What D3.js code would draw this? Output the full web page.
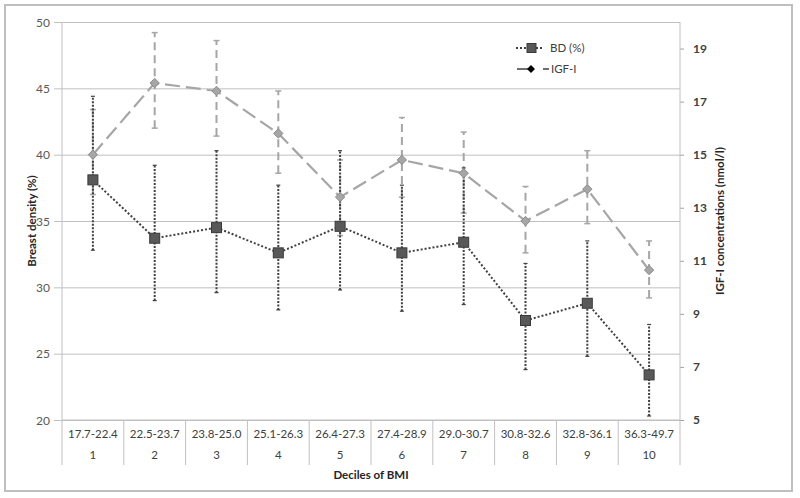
<!DOCTYPE html>
<html><head><meta charset="utf-8">
<script src="https://cdn.jsdelivr.net/npm/d3@7"></script>
<style>body{margin:0;background:#fff}svg{display:block}text{font-family:Lato,"Open Sans",sans-serif}</style>
</head><body><svg id="c" width="800" height="498"></svg>
<script>
const bmiRanges = ["17.7-22.4","22.5-23.7","23.8-25.0","25.1-26.3","26.4-27.3","27.4-28.9","29.0-30.7","30.8-32.6","32.8-36.1","36.3-49.7"];
const deciles = ["1","2","3","4","5","6","7","8","9","10"];
const bd = [38.1, 33.7, 34.5, 32.6, 34.6, 32.6, 33.4, 27.5, 28.8, 23.4];
const bdLow = [32.8, 29.0, 29.6, 28.3, 29.8, 28.2, 28.7, 23.8, 24.8, 20.3];
const bdHigh = [44.4, 39.2, 40.3, 37.7, 40.3, 37.7, 39.0, 31.8, 33.5, 27.2];
const igf = [15.0, 17.7, 17.4, 15.8, 13.4, 14.8, 14.3, 12.5, 13.7, 10.65];
const igfLow = [13.5, 16.0, 15.7, 14.3, 11.95, 13.4, 12.8, 11.3, 12.4, 9.6];
const igfHigh = [16.7, 19.6, 19.3, 17.4, 14.8, 16.4, 15.85, 13.8, 15.15, 11.75];
const leftTicks = [20,25,30,35,40,45,50];
const rightTicks = [5,7,9,11,13,15,17,19];

const svg = d3.select("#c");
const L=62,R=680,T=22,B=420,TB=465;
svg.append("rect").attr("x",5).attr("y",5).attr("width",787).attr("height",486)
  .attr("fill","#fff").attr("stroke","#bfbfbf").attr("stroke-width",2);

const x = d3.scaleBand().domain(deciles).range([L,R]);
const yL = d3.scaleLinear().domain([20,50]).range([B,T]);
const yR = d3.scaleLinear().domain([5,20]).range([B,T]);
const cx = i => x(deciles[i]) + x.bandwidth()/2;

const gl = svg.append("g").attr("transform",`translate(${L},0)`)
  .call(d3.axisLeft(yL).tickValues(leftTicks).tickSizeInner(-(R-L)).tickSizeOuter(0).tickPadding(0));
gl.select(".domain").remove();
gl.selectAll(".tick line").attr("stroke","#c0c0c0").attr("x1",-8);
gl.selectAll(".tick text").attr("x",-12).attr("fill","#595959").style("font-size","12px").attr("dy","0.35em");

const gr = svg.append("g").attr("transform",`translate(${R},0)`)
  .call(d3.axisRight(yR).tickValues(rightTicks).tickSize(4).tickPadding(9));
gr.select(".domain").remove();
gr.selectAll(".tick line").attr("stroke","#a0a0a0");
gr.selectAll(".tick text").attr("fill","#404040").style("font-size","12px").style("font-weight","bold");

svg.append("line").attr("x1",L).attr("x2",L).attr("y1",T).attr("y2",TB).attr("stroke","#c0c0c0");
svg.append("line").attr("x1",R).attr("x2",R).attr("y1",T).attr("y2",TB).attr("stroke","#c0c0c0");
svg.append("line").attr("x1",L).attr("x2",R).attr("y1",B).attr("y2",B).attr("stroke","#c0c0c0");

svg.append("g").selectAll("line").data(deciles.slice(1)).join("line")
  .attr("x1",d=>x(d)).attr("x2",d=>x(d)).attr("y1",B).attr("y2",TB).attr("stroke","#c0c0c0");

const xa1 = svg.append("g").attr("transform",`translate(0,${B})`)
  .call(d3.axisBottom(x).tickFormat((d,i)=>bmiRanges[i]).tickSize(0).tickPadding(10));
xa1.select(".domain").remove();
xa1.selectAll("text").attr("fill","#404040").style("font-size","11.5px");
const xa2 = svg.append("g").attr("transform",`translate(0,${B+21})`)
  .call(d3.axisBottom(x).tickSize(0).tickPadding(10));
xa2.select(".domain").remove();
xa2.selectAll("text").attr("fill","#404040").style("font-size","11.5px");

svg.append("text").attr("x",(L+R)/2).attr("y",479).attr("text-anchor","middle")
  .style("font-size","11.5px").style("font-weight","bold").attr("fill","#262626").text("Deciles of BMI");
svg.append("text").attr("transform",`translate(36,${(T+B)/2}) rotate(-90)`).attr("text-anchor","middle")
  .style("font-size","11.5px").style("font-weight","bold").attr("fill","#262626").text("Breast density  (%)");
svg.append("text").attr("transform",`translate(724,${(T+B)/2}) rotate(-90)`).attr("text-anchor","middle")
  .style("font-size","11.5px").style("font-weight","bold").attr("fill","#262626").text("IGF-I concentrations (nmol/l)");

const idx = d3.range(deciles.length);

const ge = svg.append("g");
ge.selectAll("line.v").data(idx).join("line").attr("class","v")
  .attr("x1",cx).attr("x2",cx).attr("y1",i=>yR(igfLow[i])).attr("y2",i=>yR(igfHigh[i]))
  .attr("stroke","#a6a6a6").attr("stroke-width",2).attr("stroke-dasharray","8,5");
["lo","hi"].forEach(k=>{
  ge.selectAll("line."+k).data(idx).join("line").attr("class",k)
    .attr("x1",i=>cx(i)-3).attr("x2",i=>cx(i)+3)
    .attr("y1",i=>yR(k==="lo"?igfLow[i]:igfHigh[i])).attr("y2",i=>yR(k==="lo"?igfLow[i]:igfHigh[i]))
    .attr("stroke","#a6a6a6").attr("stroke-width",1.5);
});

const gb = svg.append("g");
gb.selectAll("line.v").data(idx).join("line").attr("class","v")
  .attr("x1",cx).attr("x2",cx).attr("y1",i=>yL(bdLow[i])).attr("y2",i=>yL(bdHigh[i]))
  .attr("stroke","#404040").attr("stroke-width",2).attr("stroke-dasharray","2,1.5");
["lo","hi"].forEach(k=>{
  gb.selectAll("line."+k).data(idx).join("line").attr("class",k)
    .attr("x1",i=>cx(i)-2).attr("x2",i=>cx(i)+2)
    .attr("y1",i=>yL(k==="lo"?bdLow[i]:bdHigh[i])).attr("y2",i=>yL(k==="lo"?bdLow[i]:bdHigh[i]))
    .attr("stroke","#404040").attr("stroke-width",1.2);
});

svg.append("path").datum(idx)
  .attr("d",d3.line().x(cx).y(i=>yR(igf[i])))
  .attr("fill","none").attr("stroke","#a6a6a6").attr("stroke-width",2.2).attr("stroke-dasharray","15,6");
svg.append("path").datum(idx)
  .attr("d",d3.line().x(cx).y(i=>yL(bd[i])))
  .attr("fill","none").attr("stroke","#404040").attr("stroke-width",2).attr("stroke-dasharray","2,2");

const diamond = d3.symbol().type(d3.symbolDiamond2).size(55);
svg.append("g").selectAll("path").data(idx).join("path")
  .attr("transform",i=>`translate(${cx(i)},${yR(igf[i])})`).attr("d",diamond)
  .attr("fill","#a6a6a6").attr("stroke","#8a8a8a").attr("stroke-width",1);
svg.append("g").selectAll("rect").data(idx).join("rect")
  .attr("x",i=>cx(i)-5).attr("y",i=>yL(bd[i])-5).attr("width",10).attr("height",10)
  .attr("fill","#595959").attr("stroke","#3a3a3a").attr("stroke-width",1);

const lg = svg.append("g");
lg.append("line").attr("x1",516).attr("x2",543).attr("y1",48).attr("y2",48)
  .attr("stroke","#404040").attr("stroke-width",2).attr("stroke-dasharray","2,2");
lg.append("rect").attr("x",527).attr("y",43.5).attr("width",9).attr("height",9).attr("fill","#595959").attr("stroke","#3a3a3a");
lg.append("text").attr("x",550).attr("y",48).attr("dy","0.35em").style("font-size","11.5px").attr("fill","#404040").text("BD (%)");
lg.append("line").attr("x1",517).attr("x2",549).attr("y1",69).attr("y2",69)
  .attr("stroke","#404040").attr("stroke-width",1.5).attr("stroke-dasharray","11,15,6");
lg.append("path").attr("transform","translate(531,69)").attr("d",d3.symbol().type(d3.symbolDiamond2).size(40)).attr("fill","#000");
lg.append("text").attr("x",551).attr("y",69).attr("dy","0.35em").style("font-size","11.5px").attr("fill","#404040").text("IGF-I");
</script></body></html>
